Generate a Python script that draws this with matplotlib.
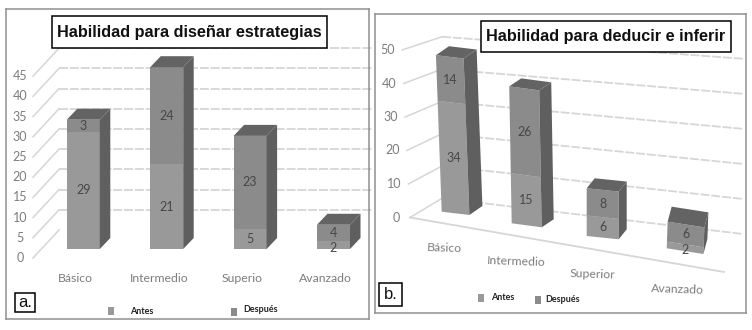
import matplotlib
matplotlib.use("Agg")
import matplotlib.pyplot as plt
from matplotlib.patches import Rectangle

# ---- data ----
cats_a = ["Básico", "Intermedio", "Superio", "Avanzado"]
antes_a = [29, 21, 5, 2]
despues_a = [3, 24, 23, 4]
ticks_a = [0, 5, 10, 15, 20, 25, 30, 35, 40, 45]
title_a = "Habilidad para diseñar estrategias"

cats_b = ["Básico", "Intermedio", "Superior", "Avanzado"]
antes_b = [34, 15, 6, 2]
despues_b = [14, 26, 8, 6]
ticks_b = [0, 10, 20, 30, 40, 50]
title_b = "Habilidad para deducir e inferir"

series_names = ["Antes", "Después"]

# ---- style ----
W, H = 752, 330
C_ANTES, C_DESP, C_SIDE, C_TOP = "#999999", "#8b8b8b", "#5f5f5f", "#636363"
C_GRID, C_TXT, C_VAL = "#d6d6d6", "#7d7d7d", "#474747"
LAT = "Lato"
BOLD = "Liberation Sans"
GRID_LS = (0, (5, 1))
SMALL_SHIFT = 0.8   # a label of a thin segment sits low, as in the reference

fig = plt.figure(figsize=(W / 100, H / 100), dpi=100, facecolor="white")

def pixel_axes(l, t, r, b):
    return fig.add_axes([l / W, 1 - b / H, (r - l) / W, (b - t) / H])

# ---- panel a: real value axis, oblique depth ----
L, T, R, B = 6, 9, 369, 319
X0, XS, Y0, YS = 83.3, 83.4, 249, 4.04
ax = pixel_axes(L, T, R, B)
ax.set_xlim((L - X0) / XS, (R - X0) / XS)
ax.set_ylim((Y0 - B) / YS, (Y0 - T) / YS)
ax.set_xticks([]); ax.set_yticks([])
for s in ax.spines.values():
    s.set_color("#8f8f8f"); s.set_linewidth(1.1)

bw = 33 / XS
dx, dy = 10.5 / XS, 11 / YS
back = 19 / YS      # back wall lift
front = -9 / YS     # front edge drop
xl, xb, xr = (33 - X0) / XS, (59 - X0) / XS, (372 - X0) / XS
for t in ticks_a:
    ax.plot([xl, xb], [t + front, t + back], color=C_GRID, lw=1.1, zorder=1)
    if t > 0:
        ax.plot([xb, xr], [t + back, t + back], color=C_GRID, lw=1.3, ls=GRID_LS, zorder=1, clip_on=False)
    ax.text((20 - X0) / XS, t + front, str(t), color=C_TXT, fontsize=9,
            family=LAT, ha="center", va="center")
for i, (c, a, d) in enumerate(zip(cats_a, antes_a, despues_a)):
    total = a + d
    ax.bar(i, a, bw, color=C_ANTES, zorder=3)
    ax.bar(i, d, bw, bottom=a, color=C_DESP, zorder=3)
    r, l = i + bw / 2, i - bw / 2
    ax.fill([r, r + dx, r + dx, r], [0, dy, total + dy, total], color=C_SIDE, lw=0, zorder=3)
    ax.fill([l, l + dx, r + dx, r], [total, total + dy, total + dy, total], color=C_TOP, lw=0, zorder=3)
    low = a / 2 - (SMALL_SHIFT if a <= 2 else 0)
    ax.text(i, low, str(a), color=C_VAL, fontsize=9, family=LAT, ha="center", va="center", zorder=4)
    ax.text(i, a + d / 2, str(d), color=C_VAL, fontsize=9, family=LAT, ha="center", va="center", zorder=4)
    ax.text(i - 8 / XS, -29 / YS, c, color=C_TXT, fontsize=8.8, family=LAT, ha="center", va="center")

# ---- panel b: perspective projection of the values, pixel units ----
L, T, R, B = 375, 14, 746, 313
bx = pixel_axes(L, T, R, B)
bx.set_xlim(L, R); bx.set_ylim(B, T)
bx.set_xticks([]); bx.set_yticks([])
for s in bx.spines.values():
    s.set_color("#8f8f8f"); s.set_linewidth(1.1)

left = [441.7, 511.7, 586.7, 666.7]
width = [27.7, 30, 32, 36.7]
base_l = [211.7, 223.3, 236, 248.3]
base_r = [215, 227.3, 239.3, 254]
scale = [3.26, 3.34, 3.41, 3.33]
lean = [0.12, 0.06, 0.0, -0.12]
depth_x = [13, 12, 8, 4]
depth_y = [9, 8, 10, 15]

def wall(v, x):
    """back-wall position of value v at pixel x"""
    f = (x - 442) / (737 - 442)
    yl = 198.3 - 3.23 * v
    yr = 233.3 - 3.5 * v
    return yl + f * (yr - yl)

for t in ticks_b:
    ya = wall(t, 442)
    fx = 410 - 0.16 * t
    fy = 217.5 - 3.35 * t
    bx.plot([fx, 442], [fy, ya], color=C_GRID, lw=1.1, zorder=1)
    bx.plot([442, 743], [ya, wall(t, 743)], color=C_GRID, lw=1.3, ls=GRID_LS, zorder=1)
    bx.text(fx - 14, fy, str(t), color=C_TXT, fontsize=9, family=LAT, ha="center", va="center")
bx.plot([410, 724], [217.5, 272], color=C_GRID, lw=1.3, zorder=1)

def pt(i, u, v):
    x = left[i] + width[i] * u - lean[i] * v
    y = base_l[i] + (base_r[i] - base_l[i]) * u - scale[i] * v
    return x, y

for i, (a, d) in enumerate(zip(antes_b, despues_b)):
    total = a + d
    def quad(v0, v1, col):
        p = [pt(i, 0, v0), pt(i, 1, v0), pt(i, 1, v1), pt(i, 0, v1)]
        bx.fill(*zip(*p), color=col, lw=0, zorder=3)
    quad(0, a, C_ANTES)
    quad(a, total, C_DESP)
    ddx, ddy = depth_x[i], depth_y[i]
    br, tr, tl = pt(i, 1, 0), pt(i, 1, total), pt(i, 0, total)
    bx.fill([br[0], br[0] + ddx, tr[0] + ddx, tr[0]],
            [br[1], br[1] - ddy, tr[1] - ddy, tr[1]], color=C_SIDE, lw=0, zorder=3)
    bx.fill([tl[0], tl[0] + ddx, tr[0] + ddx, tr[0]],
            [tl[1], tl[1] - ddy, tr[1] - ddy, tr[1]], color=C_TOP, lw=0, zorder=3)
    low = a / 2 - (SMALL_SHIFT if a <= 2 else 0)
    for v, lab in ((low, a), (a + d / 2, d)):
        x, y = pt(i, 0.5, v)
        bx.text(x, y, str(lab), color=C_VAL, fontsize=9, family=LAT, ha="center", va="center", zorder=4)

label_xy = [(444, 248), (516, 262), (593, 274), (678, 289)]
for c, (x, y) in zip(cats_b, label_xy):
    bx.text(x, y, c, color=C_TXT, fontsize=8.8, family=LAT, ha="center", va="center", rotation=-2)

# ---- overlay: titles, panel letters, legends ----
ov = fig.add_axes([0, 0, 1, 1], facecolor="none", zorder=10)
ov.set_xlim(0, W); ov.set_ylim(H, 0); ov.axis("off")

def boxed(l, t, r, b, txt, size, family=BOLD, weight="bold"):
    ov.add_patch(Rectangle((l, t), r - l, b - t, fc="white", ec="black", lw=1.1))
    ov.text((l + r) / 2, (t + b) / 2, txt, fontsize=size, family=family, weight=weight,
            ha="center", va="center", color="#111111")

boxed(52, 16, 327, 48, title_a, 11.7)
boxed(481, 21, 731, 52, title_b, 11.7)
boxed(15, 293, 35, 312, "a.", 12, weight="normal")
boxed(379, 283, 402, 306, "b.", 12, weight="normal")

legend = [(111, 311, 130, 312, series_names[0], C_ANTES),
          (234, 312, 243, 310, series_names[1], C_DESP),
          (481, 298, 491, 298, series_names[0], C_ANTES),
          (538, 300, 545, 300, series_names[1], C_DESP)]
for mx, my, tx, ty, name, col in legend:
    ov.add_patch(Rectangle((mx - 3, my - 4), 6, 8, fc=col, ec="none"))
    ov.text(tx, ty, name, fontsize=6.5, family=LAT, weight="bold", color="#222222", ha="left", va="center")

fig.savefig("out.png", dpi=100)
